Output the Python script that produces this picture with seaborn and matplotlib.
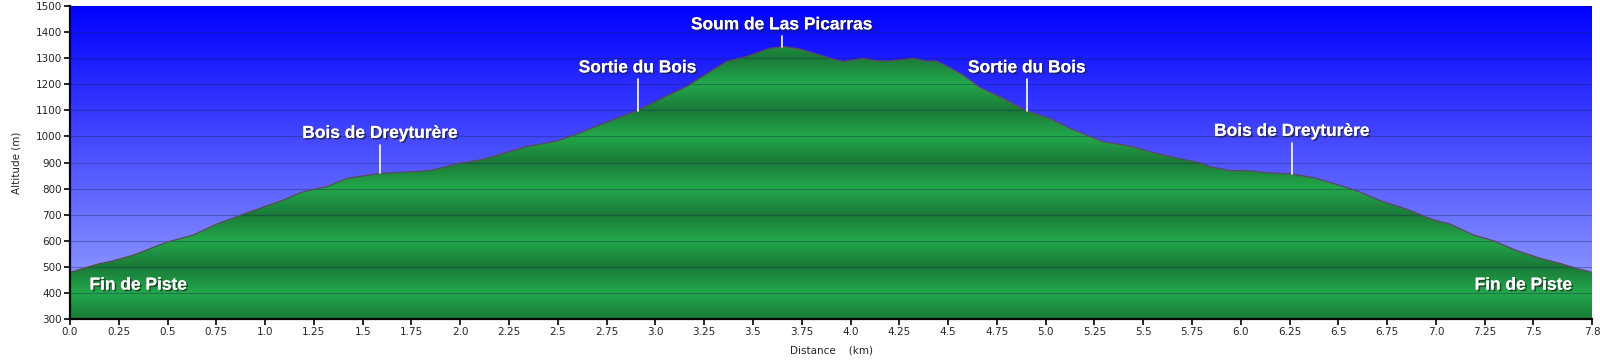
import numpy as np
import seaborn as sns
import matplotlib.pyplot as plt
import matplotlib.patheffects as pe
from matplotlib.patches import Polygon
from matplotlib.colors import LinearSegmentedColormap

# profile (km, m)
distance_km = [0.0, 0.154, 0.205, 0.325, 0.495, 0.632, 0.752, 0.923, 1.093, 1.196,
               1.316, 1.418, 1.589, 1.691, 1.845, 2.0, 2.118, 2.341, 2.495, 2.597,
               2.716, 2.802, 2.909, 3.058, 3.161, 3.246, 3.366, 3.468, 3.588, 3.665,
               3.742, 3.844, 3.912, 3.964, 4.066, 4.134, 4.194, 4.254, 4.323, 4.391,
               4.442, 4.494, 4.579, 4.664, 4.767, 4.904, 5.023, 5.126, 5.211, 5.296,
               5.433, 5.553, 5.655, 5.792, 5.843, 5.946, 6.031, 6.134, 6.262, 6.373,
               6.475, 6.595, 6.714, 6.851, 6.988, 7.073, 7.193, 7.295, 7.415, 7.535,
               7.637, 7.722, 7.8]
altitude_m = [479, 513, 520, 545, 594, 622, 664, 711, 756, 788,
              807, 839, 858, 862, 869, 897, 912, 961, 982, 1008,
              1044, 1069, 1099, 1155, 1191, 1232, 1287, 1306, 1338, 1344,
              1335, 1312, 1296, 1287, 1299, 1290, 1289, 1293, 1299, 1289,
              1289, 1270, 1235, 1188, 1152, 1099, 1069, 1031, 1005, 980,
              963, 938, 920, 899, 884, 869, 869, 861, 856, 842,
              820, 792, 754, 721, 680, 664, 622, 600, 562, 533,
              513, 494, 479]

# waypoints
wp_names = ["Bois de Dreyturère", "Sortie du Bois", "Soum de Las Picarras",
            "Sortie du Bois", "Bois de Dreyturère"]
wp_km = [1.589, 2.909, 3.648, 4.904, 6.262]
wp_alt = [858, 1099, 1344, 1099, 856]
wp_stem = [110, 120, 40, 120, 120]

end_label = "Fin de Piste"

x_ticks = [i * 0.25 for i in range(31)] + [7.8]
y_ticks = list(range(300, 1501, 100))


def tick_text(v):
    s = f"{v:.2f}".rstrip("0")
    return s + "0" if s.endswith(".") else s


sns.set_style("ticks")
plt.rcParams["font.family"] = ["DejaVu Sans"]

fig = plt.figure(figsize=(16, 3.64), dpi=100)
ax = fig.add_axes([0.04375, 0.1236, 0.95125, 0.8599])
xmin, xmax, ymin, ymax = 0, 7.8, 300, 1500
ax.set_xlim(xmin, xmax)
ax.set_ylim(ymin, ymax)

# sky gradient: light at the bottom, pure blue at the top
sky = LinearSegmentedColormap.from_list("sky", ["#a0aaff", "#0000ff"])
ax.imshow(np.linspace(0, 1, 256).reshape(-1, 1), cmap=sky, aspect="auto",
          extent=[xmin, xmax, ymin, ymax], origin="lower", zorder=0)

# green banded fill (triangle wave, 200 m period)
yy = np.linspace(ymin, ymax, 1201)
band = np.abs(((yy - 300) % 200) / 100 - 1)   # 1 at odd hundreds, 0 at even
green = LinearSegmentedColormap.from_list("green", ["#23a84b", "#1a7a38"])
img = ax.imshow(band.reshape(-1, 1), cmap=green, aspect="auto",
                extent=[xmin, xmax, ymin, ymax], origin="lower", zorder=1)
verts = list(zip(distance_km, altitude_m)) + [(xmax, ymin), (xmin, ymin)]
clip = Polygon(verts, closed=True, facecolor="none", edgecolor="none",
               transform=ax.transData)
ax.add_patch(clip)
img.set_clip_path(clip)

sns.lineplot(x=distance_km, y=altitude_m, ax=ax, color="#5b4a5e", lw=0.9,
             zorder=3, legend=False)

for y in y_ticks[1:-1]:
    ax.axhline(y, color="#10204a", lw=0.8, alpha=0.35, zorder=2)

shadow = [pe.withSimplePatchShadow(offset=(1.2, -1.2), shadow_rgbFace="#222222",
                                   alpha=0.7), pe.Normal()]
for name, km, alt, stem in zip(wp_names, wp_km, wp_alt, wp_stem):
    ax.plot([km, km], [alt, alt + stem], color="white", lw=1.2, zorder=4)
    ax.text(km, alt + stem + 15, name, ha="center", va="bottom", color="white",
            fontsize=12.5, fontweight="bold", family="Liberation Sans",
            path_effects=shadow, zorder=5)

ax.text(0.1, 430, end_label, ha="left", va="center", color="white",
        fontsize=12.5, fontweight="bold", family="Liberation Sans",
        path_effects=shadow, zorder=5)
ax.text(7.7, 430, end_label, ha="right", va="center", color="white",
        fontsize=12.5, fontweight="bold", family="Liberation Sans",
        path_effects=shadow, zorder=5)

ax.set_xticks(x_ticks)
ax.set_xticklabels([tick_text(v) for v in x_ticks])
ax.set_yticks(y_ticks)
ax.tick_params(axis="both", labelsize=7.5, length=4, width=1.2, color="black",
               direction="out", pad=2)
for side in ["top", "right"]:
    ax.spines[side].set_visible(False)
for side in ["left", "bottom"]:
    ax.spines[side].set_linewidth(1.6)
    ax.spines[side].set_color("black")
    ax.spines[side].set_zorder(6)

ax.set_xlabel("Distance    (km)", fontsize=7.5, labelpad=6)
ax.set_ylabel("Altitude (m)", fontsize=7.5, labelpad=10)

fig.savefig("out.png", dpi=100)
